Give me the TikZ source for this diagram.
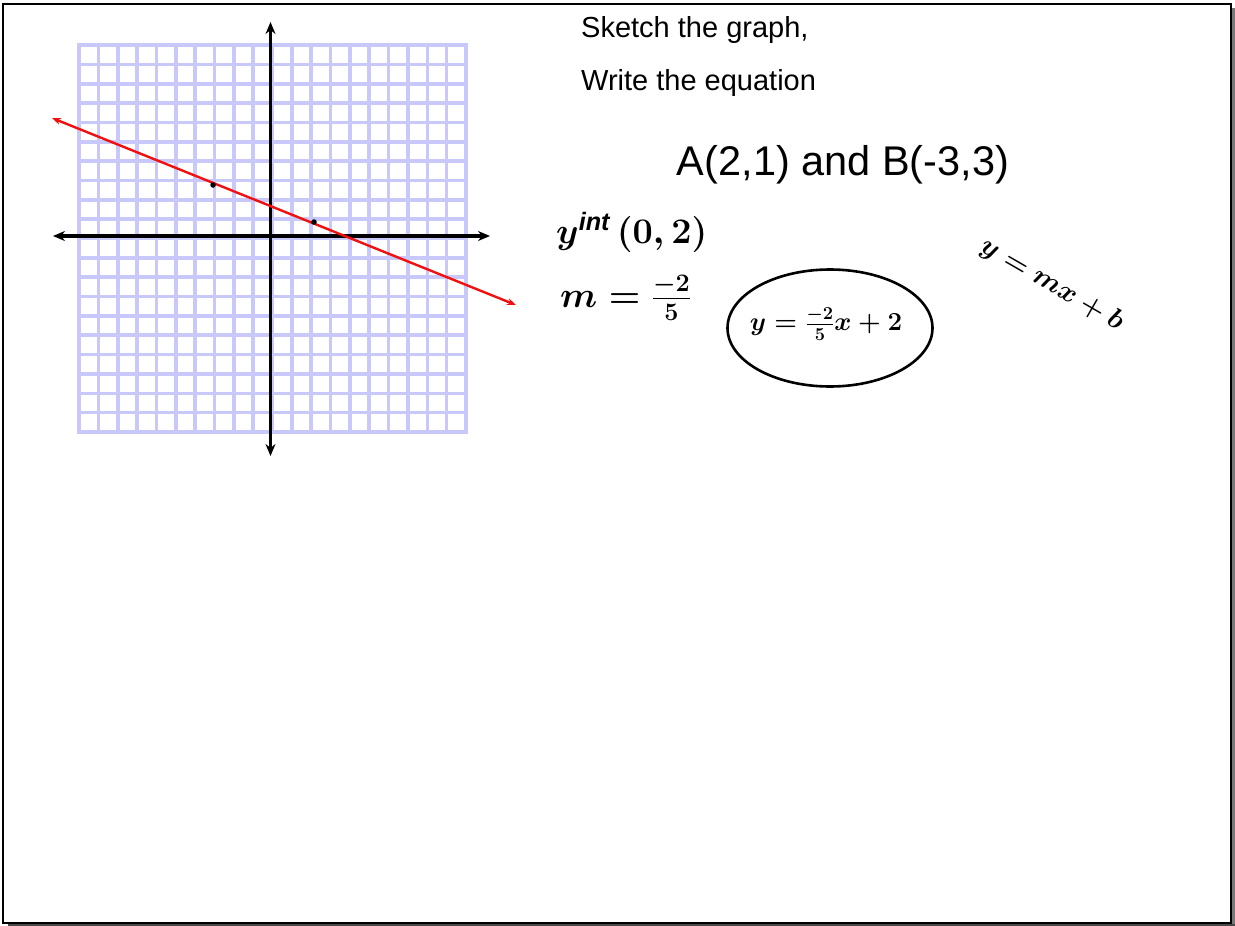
\RequirePackage{fix-cm}
\documentclass[tikz,border=0pt]{standalone}
\usepackage{fontspec}
\setmainfont{Liberation Sans}
\usetikzlibrary{arrows.meta,positioning,shapes.geometric}
\definecolor{SheetGrid}{RGB}{200,200,250}
\definecolor{SheetRed}{RGB}{240,16,16}
\definecolor{SheetShade}{RGB}{120,120,120}
\tikzset{
  sheet frame/.style={draw=black,line width=2pt},
  sheet grid/.style={draw=SheetGrid,line width=3.6pt,line cap=rect},
  sheet axis/.style={
    {Stealth[length=12pt,width=10pt]}-{Stealth[length=12pt,width=10pt]},
    draw=black,
    line width=3.6pt
  },
  sheet line/.style={
    {Stealth[length=9pt,width=7pt]}-{Stealth[length=9pt,width=7pt]},
    draw=SheetRed,
    line width=2.4pt
  },
  sheet dot/.style={circle,fill=black,inner sep=0pt,minimum size=5.5pt},
  sheet text/.style={font=\fontsize{29}{34}\selectfont,inner sep=0pt},
  sheet title/.style={font=\fontsize{41.5}{48}\selectfont,inner sep=0pt},
  hand text/.style={font=\fontsize{36}{42}\selectfont\boldmath,inner sep=0pt},
  hand ring/.style={
    ellipse,
    draw=black,
    line width=2.6pt,
    minimum width=205pt,
    minimum height=117pt,
    inner sep=0pt
  }
}

\begin{document}
\begin{tikzpicture}[x=1pt,y=-1pt]
  \useasboundingbox (0,0) rectangle (1235,926);
  \fill[SheetShade] (1232,8) rectangle (1235,926);
  \fill[SheetShade!60!black] (8,923.5) rectangle (1235,926);
  \draw[sheet frame] (3,4) rectangle (1230.5,923);

  \foreach \i in {0,...,20} {
    \draw[sheet grid] (79+19.35*\i,45) -- (79+19.35*\i,432);
    \draw[sheet grid] (79,45+19.35*\i) -- (466,45+19.35*\i);
  }

  \coordinate (xleft) at (53,236);
  \coordinate (xright) at (490,236);
  \coordinate (ytop) at (270.5,22);
  \coordinate (ybottom) at (270.5,456);
  \draw[sheet axis] (xleft) -- (xright);
  \draw[sheet axis] (ybottom) -- (ytop);

  \coordinate (lineleft) at (52,118);
  \coordinate (lineright) at (516,305);
  \draw[sheet line] (lineleft) -- (lineright);
  \node[sheet dot] (pointb) at (213,185) {};
  \node[sheet dot] (pointa) at (314,222) {};

  \node[sheet text,anchor=base west] (sketch) at (581,37) {Sketch the graph,};
  \node[sheet text,anchor=base west] (write) at (581,90) {Write the equation};
  \node[sheet title,anchor=base] (points) at (843,175) {A(2,1) and B(-3,3)};

  \node[hand text,anchor=west] (yint) at (556,232) {$y^{\mathit{int}}\,(0,2)$};
  \node[hand text,anchor=west] (slope) at (560,298) {$m=\frac{-2}{5}$};
  \node[hand ring] (answer) at (830,328) {};
  \node[hand text,font=\fontsize{26}{30}\selectfont\boldmath] (answertext) at (826,324) {$y=\frac{-2}{5}x+2$};
  \node[hand text,rotate=-30,font=\fontsize{28}{32}\selectfont\boldmath] (form) at (1052,285) {$y=mx+b$};
\end{tikzpicture}
\end{document}
